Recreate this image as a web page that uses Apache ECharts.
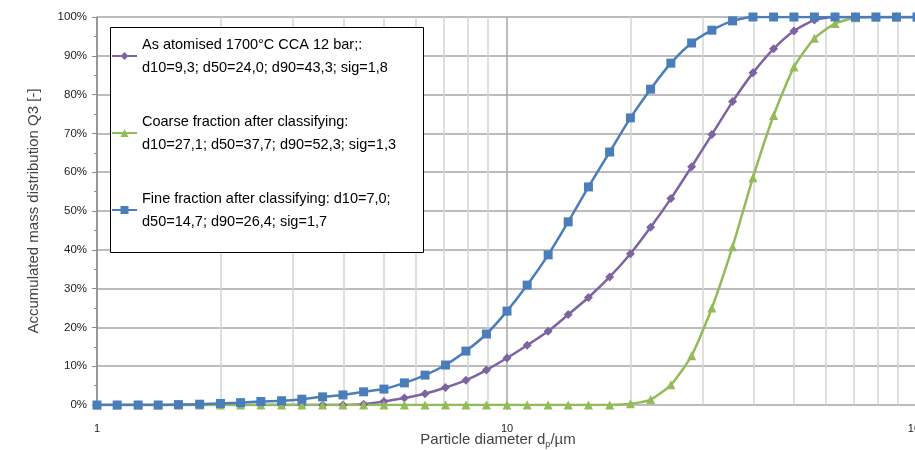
<!DOCTYPE html>
<html>
<head>
<meta charset="utf-8">
<script src="https://cdn.jsdelivr.net/npm/echarts@6/dist/echarts.min.js"></script>
<style>
  html, body { margin: 0; padding: 0; background: #fff; }
  #chart { width: 915px; height: 450px; }
</style>
</head>
<body>
<div id="chart"></div>
<script>
// particle diameter in µm (log spaced classes)
var diameters = [1, 1.12, 1.26, 1.41, 1.58, 1.78, 2.0, 2.24, 2.51, 2.82, 3.16, 3.55, 3.98, 4.47, 5.01, 5.62, 6.31, 7.08, 7.94, 8.91,
  10, 11.2, 12.6, 14.1, 15.8, 17.8, 20.0, 22.4, 25.1, 28.2, 31.6, 35.5, 39.8, 44.7, 50.1, 56.2, 63.1, 70.8, 79.4, 89.1, 100];

// accumulated mass distribution Q3 in %
var atomised = [0, 0, 0, 0, 0, 0, 0, 0, 0, 0, 0, 0, 0, 0.2, 0.9, 1.8, 2.9, 4.5, 6.4, 9.0,
  12.1, 15.4, 19.0, 23.3, 27.7, 33.0, 39.0, 45.8, 53.2, 61.4, 69.7, 78.2, 85.6, 91.8, 96.4, 99.2, 100, 100, 100, 100, 100];
var coarse = [0, 0, 0, 0, 0, 0, 0, 0, 0, 0, 0, 0, 0, 0, 0, 0, 0, 0, 0, 0,
  0, 0, 0, 0, 0, 0, 0.3, 1.4, 5.2, 12.7, 25.0, 40.8, 58.6, 74.6, 87.1, 94.5, 98.3, 99.8, 100, 100, 100];
var fine = [0, 0, 0, 0, 0.1, 0.2, 0.4, 0.6, 0.9, 1.1, 1.5, 2.1, 2.6, 3.4, 4.1, 5.7, 7.7, 10.3, 13.9, 18.3,
  24.2, 30.9, 38.7, 47.2, 56.2, 65.2, 74.0, 81.4, 88.1, 93.3, 96.6, 99.0, 100, 100, 100, 100, 100, 100, 100, 100, 100];

var seriesNames = [
  'As atomised 1700°C CCA 12 bar;:\nd10=9,3; d50=24,0; d90=43,3; sig=1,8',
  'Coarse fraction after classifying:\nd10=27,1; d50=37,7; d90=52,3; sig=1,3',
  'Fine fraction after classifying: d10=7,0;\nd50=14,7; d90=26,4; sig=1,7'
];

// minor log grid lines (2..9 per decade)
var minorGrid = [2, 3, 4, 5, 6, 7, 8, 9, 20, 30, 40, 50, 60, 70, 80, 90];

function pairs(ys) {
  return diameters.map(function (x, i) { return [x, ys[i]]; });
}

var font = 'Liberation Sans';
var chart = echarts.init(document.getElementById('chart'));

chart.setOption({
  animation: false,
  textStyle: { fontFamily: font },
  grid: { left: 97, right: -2, top: 17, bottom: 45, outerBoundsMode: 'none', containLabel: false },
  graphic: [{
    type: 'rect',
    left: 110, top: 27, z: 90,
    shape: { width: 313, height: 225 },
    style: { fill: '#fff', stroke: '#000', lineWidth: 1 }
  }],
  legend: {
    data: seriesNames,
    orient: 'vertical',
    left: 111, top: 21.5,
    padding: 0,
    itemGap: 8,
    itemWidth: 25, itemHeight: 10,
    z: 100,
    textStyle: { fontSize: 14.5, color: '#000', lineHeight: 23, padding: [23, 0, 0, 0], fontFamily: font }
  },
  xAxis: {
    type: 'log', logBase: 10, min: 1, max: 100,
    name: 'Particle diameter d{sub|p}/µm',
    nameLocation: 'middle', nameGap: 26, nameMoveOverlap: false,
    nameTextStyle: {
      fontSize: 15, color: '#444', padding: [0, 18, 0, 0],
      rich: { sub: { fontSize: 9, color: '#444', padding: [9, 0, 0, 0] } }
    },
    axisLine: { show: false },
    axisTick: { show: true, length: 5, lineStyle: { color: '#a6a6a6' } },
    axisLabel: { fontSize: 11, color: '#222', margin: 18 },
    splitLine: { show: true, lineStyle: { color: '#a6a6a6', width: 1.5 } }
  },
  yAxis: {
    type: 'value', min: 0, max: 100, interval: 10,
    name: 'Accumulated mass distribution Q3 [-]',
    nameLocation: 'middle', nameGap: 56, nameMoveOverlap: false,
    nameTextStyle: { fontSize: 15, color: '#444' },
    axisLine: { show: true, lineStyle: { color: '#8c8c8c', width: 1.5 } },
    axisTick: { show: true, length: 5, lineStyle: { color: '#8c8c8c' } },
    minorTick: { show: true, splitNumber: 2, length: 3, lineStyle: { color: '#8c8c8c' } },
    axisLabel: { fontSize: 11.5, color: '#222', margin: 10, formatter: '{value}%' },
    splitLine: { show: true, lineStyle: { color: '#a6a6a6', width: 1.5 } }
  },
  series: [
    {
      name: 'minor', type: 'line', data: [], z: 0, silent: true,
      markLine: {
        z: 0, silent: true, symbol: 'none', animation: false,
        label: { show: false },
        lineStyle: { color: '#d4d4d4', width: 1.5, type: 'solid' },
        data: minorGrid.map(function (v) { return { xAxis: v }; })
      }
    },
    {
      name: seriesNames[0], type: 'line', data: pairs(atomised), smooth: 0.2,
      symbol: 'diamond', symbolSize: 9,
      itemStyle: { color: '#7e63a3' },
      lineStyle: { color: '#7e63a3', width: 2.5 }
    },
    {
      name: seriesNames[1], type: 'line', data: pairs(coarse), smooth: 0.2,
      symbol: 'triangle', symbolSize: 9,
      itemStyle: { color: '#93bb59' },
      lineStyle: { color: '#93bb59', width: 2.5 }
    },
    {
      name: seriesNames[2], type: 'line', data: pairs(fine), smooth: 0.2,
      symbol: 'rect', symbolSize: 9,
      itemStyle: { color: '#4a7ebb' },
      lineStyle: { color: '#4a7ebb', width: 2.5 }
    }
  ]
});
</script>
</body>
</html>
